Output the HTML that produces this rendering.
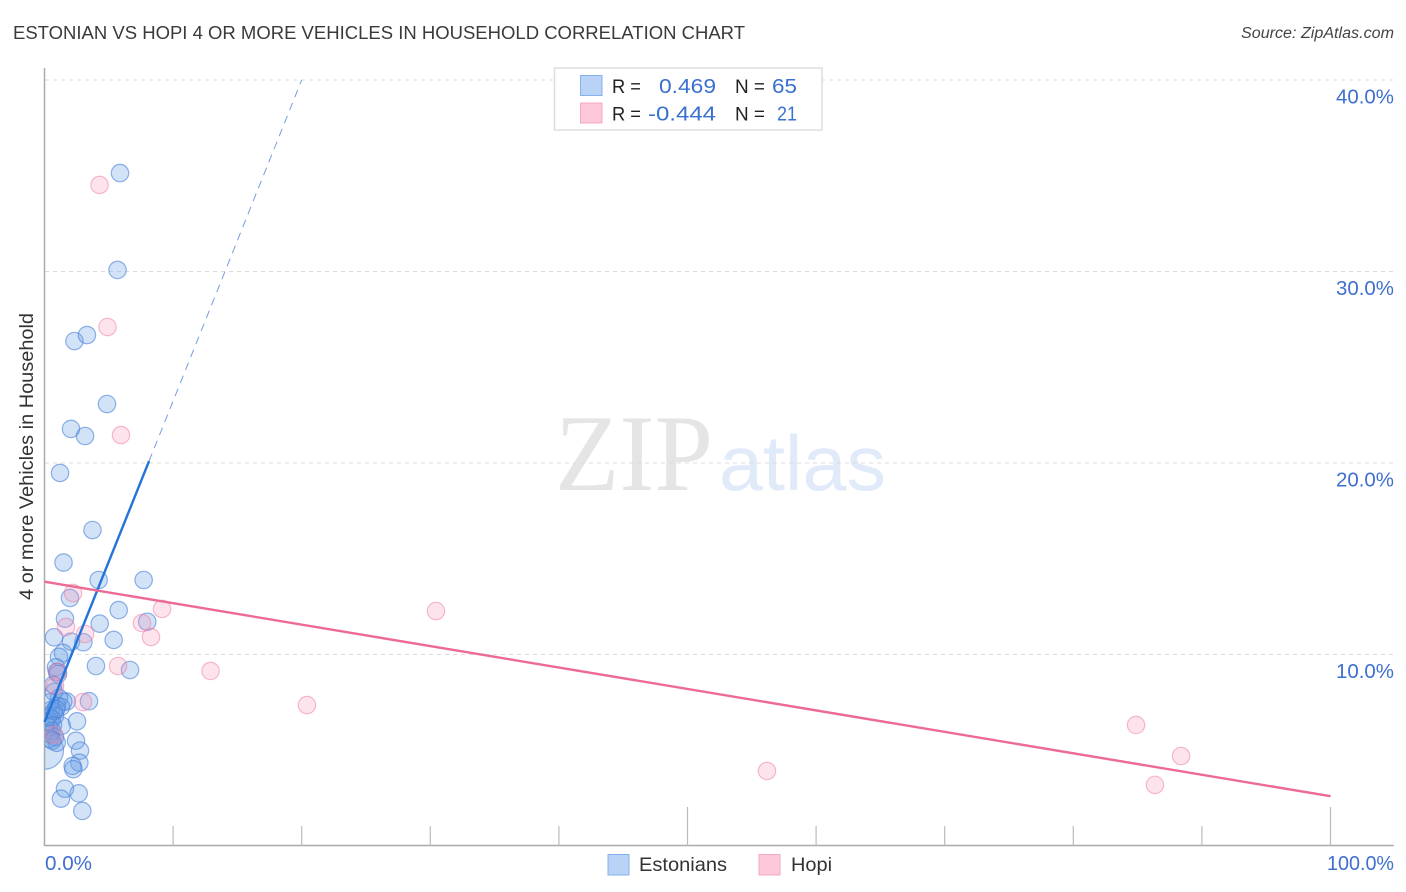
<!DOCTYPE html>
<html>
<head>
<meta charset="utf-8">
<title>Estonian vs Hopi 4 or More Vehicles in Household Correlation Chart</title>
<style>
html,body{margin:0;padding:0;background:#fff;width:1406px;height:892px;overflow:hidden}
svg{display:block;font-family:"Liberation Sans",sans-serif}
</style>
</head>
<body>
<svg id="chart" width="1406" height="892" viewBox="0 0 1406 892" xmlns="http://www.w3.org/2000/svg">
  <defs><clipPath id="plot-clip"><rect x="45" y="60" width="1349" height="786"/></clipPath></defs>
  <text x="13" y="39" font-size="18.5" fill="#3a3a3a" textLength="732" lengthAdjust="spacingAndGlyphs">ESTONIAN VS HOPI 4 OR MORE VEHICLES IN HOUSEHOLD CORRELATION CHART</text>
  <text x="1394" y="38" font-size="15.5" font-style="italic" fill="#444" text-anchor="end" textLength="153" lengthAdjust="spacingAndGlyphs">Source: ZipAtlas.com</text>
  <g>
    <text x="555" y="490" font-family="'Liberation Serif',serif" font-size="109" fill="#e5e5e5" textLength="158" lengthAdjust="spacingAndGlyphs">ZIP</text>
    <text x="719" y="490" font-size="78" fill="#e0eaf9" textLength="167" lengthAdjust="spacingAndGlyphs">atlas</text>
  </g>
  <g id="grid"></g>
  <g id="axes"></g>
  <g id="marks" clip-path="url(#plot-clip)"></g>
  <g id="lines"></g>
  <g>
    <rect x="554.5" y="68" width="267.5" height="62" fill="#fff" stroke="#ddd" stroke-width="1.5"/>
    <rect x="580.5" y="75.5" width="21.5" height="20" fill="#b9d3f7" stroke="#86b0ec" stroke-width="1"/>
    <rect x="580.5" y="103" width="21.5" height="20" fill="#fcc8da" stroke="#f3a9c3" stroke-width="1"/>
    <text x="612" y="93" font-size="19" fill="#222" textLength="29" lengthAdjust="spacingAndGlyphs">R =</text>
    <text x="659" y="93" font-size="20" fill="#3a70cf" textLength="57" lengthAdjust="spacingAndGlyphs">0.469</text>
    <text x="735" y="93" font-size="19" fill="#222" textLength="30" lengthAdjust="spacingAndGlyphs">N =</text>
    <text x="772" y="93" font-size="20" fill="#3a70cf" textLength="25" lengthAdjust="spacingAndGlyphs">65</text>
    <text x="612" y="120.5" font-size="19" fill="#222" textLength="29" lengthAdjust="spacingAndGlyphs">R =</text>
    <text x="648" y="120.5" font-size="20" fill="#3a70cf" textLength="68" lengthAdjust="spacingAndGlyphs">-0.444</text>
    <text x="735" y="120.5" font-size="19" fill="#222" textLength="30" lengthAdjust="spacingAndGlyphs">N =</text>
    <text x="777" y="120.5" font-size="20" fill="#3a70cf" textLength="20" lengthAdjust="spacingAndGlyphs">21</text>
  </g>
  <text transform="translate(33,456.5) rotate(-90)" font-size="19" fill="#333" text-anchor="middle" textLength="287" lengthAdjust="spacingAndGlyphs">4 or more Vehicles in Household</text>
  <g>
    <g>
      <rect x="608" y="854.5" width="21" height="20.5" fill="#b9d3f7" stroke="#86b0ec" stroke-width="1"/>
      <text x="639" y="871" font-size="19.5" fill="#333" textLength="88" lengthAdjust="spacingAndGlyphs">Estonians</text>
    </g>
    <g>
      <rect x="759" y="854.5" width="21" height="20.5" fill="#fcc8da" stroke="#f3a9c3" stroke-width="1"/>
      <text x="791" y="871" font-size="19.5" fill="#333" textLength="41" lengthAdjust="spacingAndGlyphs">Hopi</text>
    </g>
  </g>
</svg>
<script>
const estonianX = [5.87,5.68,2.33,3.30,4.86,2.06,3.15,1.21,3.73,1.48,4.21,7.71,1.98,5.77,1.59,4.29,7.99,0.74,2.06,3.02,5.38,1.44,1.13,4.00,6.65,0.89,0.97,1.05,0.68,0.74,3.46,1.73,1.46,1.13,0.97,1.28,0.51,0.74,0.35,0.82,0.58,0.43,0.66,0.35,0.58,0.43,0.82,2.53,1.34,2.45,0.95,2.76,2.71,2.19,2.24,1.59,2.66,1.28,2.94,0.43,0.90,0.40,0.60];
const estonianY = [35.14,30.08,26.37,26.68,23.08,21.78,21.41,19.48,16.50,14.80,13.89,13.89,12.95,12.32,11.87,11.61,11.71,10.90,10.67,10.64,10.76,10.08,9.88,9.40,9.19,9.33,9.09,8.98,8.41,8.04,7.56,7.54,7.54,7.73,7.31,7.26,7.10,7.05,6.79,6.79,6.63,6.48,6.32,6.21,6.01,5.85,5.69,6.51,6.28,5.50,5.39,4.98,4.35,4.18,4.01,2.99,2.75,2.47,1.83,7.50,7.15,5.60,5.50];
const estonianLargeX = [0.0];
const estonianLargeY = [5.0];
const hopiX = [4.28,4.90,5.95,2.22,9.14,30.44,7.58,8.28,1.67,3.15,5.72,12.91,1.05,0.82,2.99,20.41,0.74,56.18,84.88,88.38,86.35];
const hopiY = [34.52,27.10,21.46,13.21,12.38,12.27,11.64,10.91,11.44,11.07,9.40,9.14,9.09,8.36,7.52,7.36,5.80,3.92,6.32,4.70,3.19];
const yTickValues = [10,20,30,40];
const yTickLabels = ["10.0%","20.0%","30.0%","40.0%"];
const xTickValues = [10,20,30,40,50,60,70,80,90,100];
const xEndLabels = ["0.0%","100.0%"];
const estonianTrendX = [0,8.13];
const estonianTrendY = [6.47,20.1];
const estonianDashX = [8.13,20.0];
const estonianDashY = [20.1,40.0];
const hopiTrendX = [0,100];
const hopiTrendY = [13.8,2.6];

const NS = 'http://www.w3.org/2000/svg';
const xScale = v => 44.5 + v * 12.86;
const yScale = v => 846 - v * 19.15;
const gridG = document.getElementById('grid');
const axesG = document.getElementById('axes');
const marksG = document.getElementById('marks');
const linesG = document.getElementById('lines');

function mk(tag, attrs, parent) {
  const el = document.createElementNS(NS, tag);
  for (const k in attrs) el.setAttribute(k, attrs[k]);
  parent.appendChild(el);
  return el;
}

yTickValues.forEach((v, i) => {
  const g = mk('line', {x1: 45, x2: 1394, y1: yScale(v), y2: yScale(v), stroke: '#dcdcdc', 'stroke-width': 1, 'stroke-dasharray': '4 4'}, gridG);
  
  
  const t = mk('text', {x: 1394, y: yScale(v) + 23.5, 'font-size': 20, fill: '#3f6fd0', 'text-anchor': 'end', textLength: 58, lengthAdjust: 'spacingAndGlyphs'}, axesG);
  t.textContent = yTickLabels[i];
  
  
});

const yAxis = mk('line', {x1: 44.5, x2: 44.5, y1: 68, y2: 846, stroke: '#aaa', 'stroke-width': 1.5}, axesG);


const xAxis = mk('line', {x1: 44, x2: 1394, y1: 845.5, y2: 845.5, stroke: '#aaa', 'stroke-width': 1.5}, axesG);



xTickValues.forEach(v => {
  const top = v % 50 === 0 ? 807 : 826;
  const t = mk('line', {x1: xScale(v), x2: xScale(v), y1: top, y2: 845.5, stroke: '#bbb', 'stroke-width': 1.2}, axesG);
  
  
});

const xLabelStart = mk('text', {x: 45, y: 870, 'font-size': 20, fill: '#3f6fd0', textLength: 47, lengthAdjust: 'spacingAndGlyphs'}, axesG);
xLabelStart.textContent = xEndLabels[0];


const xLabelEnd = mk('text', {x: 1394, y: 870, 'font-size': 20, fill: '#3f6fd0', 'text-anchor': 'end', textLength: 67, lengthAdjust: 'spacingAndGlyphs'}, axesG);
xLabelEnd.textContent = xEndLabels[1];



const blueStyle = {fill: '#6a9fe6', 'fill-opacity': 0.3, stroke: '#4a80d8', 'stroke-opacity': 0.6, 'stroke-width': 1.2};
const pinkStyle = {fill: '#f88fb2', 'fill-opacity': 0.25, stroke: '#ee7aa2', 'stroke-opacity': 0.5, 'stroke-width': 1.2};

estonianLargeX.forEach((x, i) => {
  const c = mk('circle', Object.assign({cx: xScale(x), cy: yScale(estonianLargeY[i]), r: 19}, blueStyle), marksG);
  
  
});
estonianX.forEach((x, i) => {
  const c = mk('circle', Object.assign({cx: xScale(x), cy: yScale(estonianY[i]), r: 8.7}, blueStyle), marksG);
  
  
});
hopiX.forEach((x, i) => {
  const c = mk('circle', Object.assign({cx: xScale(x), cy: yScale(hopiY[i]), r: 8.7}, pinkStyle), marksG);
  
  
});

const trendDash = mk('line', {x1: xScale(estonianDashX[0]), y1: yScale(estonianDashY[0]), x2: xScale(estonianDashX[1]), y2: yScale(estonianDashY[1]), stroke: '#3b75cc', 'stroke-width': 1, 'stroke-dasharray': '8 6', 'stroke-opacity': 0.7}, linesG);


const trendBlue = mk('line', {x1: xScale(estonianTrendX[0]), y1: yScale(estonianTrendY[0]), x2: xScale(estonianTrendX[1]), y2: yScale(estonianTrendY[1]), stroke: '#2274dc', 'stroke-width': 2.4}, linesG);


const trendPink = mk('line', {x1: xScale(hopiTrendX[0]), y1: yScale(hopiTrendY[0]), x2: xScale(hopiTrendX[1]), y2: yScale(hopiTrendY[1]), stroke: '#ec6a94', 'stroke-width': 2.4}, linesG);


</script>
</body>
</html>
